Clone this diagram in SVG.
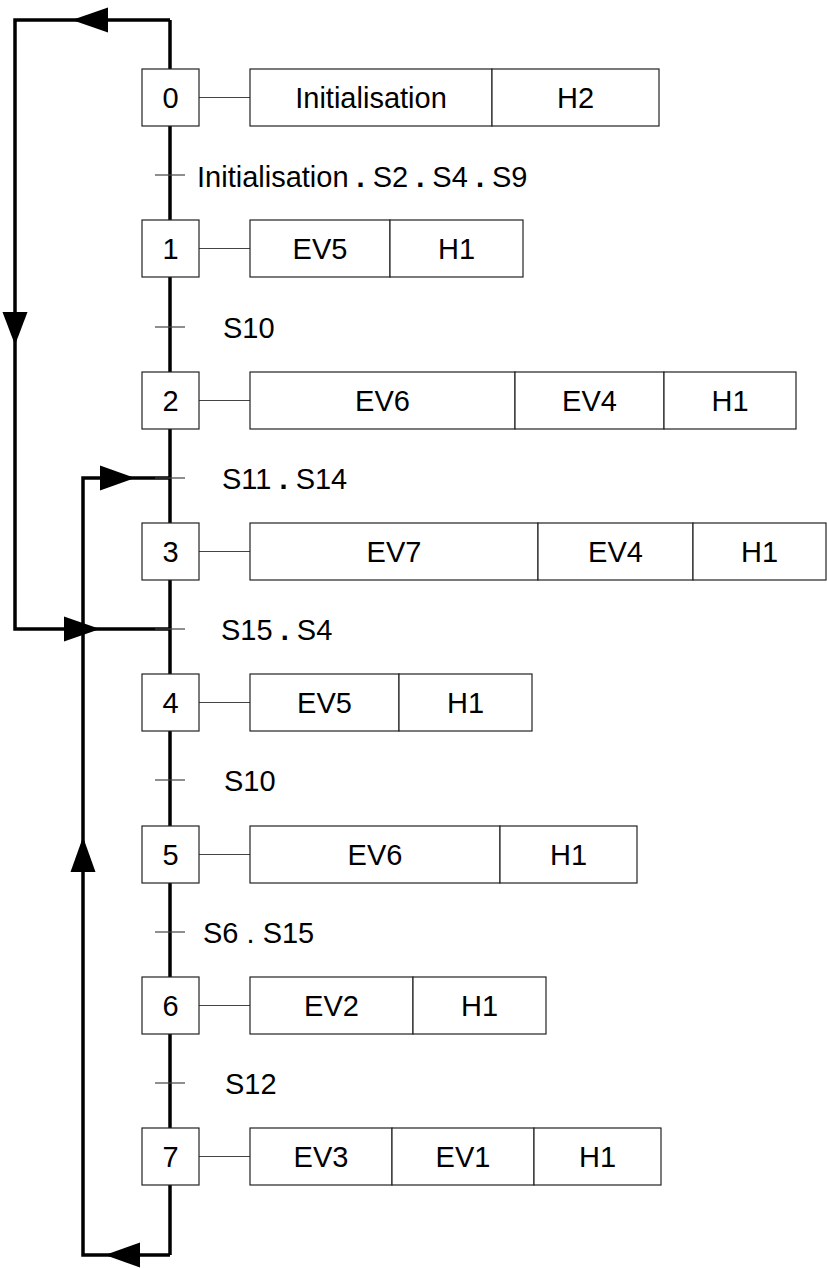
<svg xmlns="http://www.w3.org/2000/svg" width="827" height="1268" viewBox="0 0 827 1268">
<style>
text{font-family:"Liberation Sans",Arial,sans-serif;font-size:29px;fill:#000}
.c{text-anchor:middle}
.b{font-weight:bold}
.box{fill:#fff;stroke:#222;stroke-width:1.2}
.thin{stroke:#444;stroke-width:1.2;fill:none}
.thick{stroke:#000;stroke-width:3.5;fill:none;stroke-linejoin:miter}
.ah{fill:#000}
</style>
<rect width="827" height="1268" fill="#fff"/>
<g id="connectors">
<line class="thick" x1="170" y1="20" x2="170" y2="1255"/>
<path class="thick" d="M170,20 H15 V629 H170"/>
<path class="thick" d="M170,1255 H83 V478 H170"/>
<polygon class="ah" points="72,20 108,7.5 108,32.5"/>
<polygon class="ah" points="15,345 2.5,312 27.5,312"/>
<polygon class="ah" points="100,629 64,616.5 64,641.5"/>
<polygon class="ah" points="135,478 100,465.5 100,490.5"/>
<polygon class="ah" points="83,837 70.5,872 95.5,872"/>
<polygon class="ah" points="105,1255 140,1242.5 140,1267.5"/>
<g class="thin">
<line x1="155" y1="175" x2="185" y2="175"/>
<line x1="155" y1="327" x2="185" y2="327"/>
<line x1="155" y1="478" x2="185" y2="478"/>
<line x1="155" y1="629" x2="185" y2="629"/>
<line x1="155" y1="780" x2="185" y2="780"/>
<line x1="155" y1="932" x2="185" y2="932"/>
<line x1="155" y1="1083" x2="185" y2="1083"/>
<line x1="199" y1="97.5" x2="250" y2="97.5"/>
<line x1="199" y1="248.5" x2="250" y2="248.5"/>
<line x1="199" y1="400.5" x2="250" y2="400.5"/>
<line x1="199" y1="551.5" x2="250" y2="551.5"/>
<line x1="199" y1="702.5" x2="250" y2="702.5"/>
<line x1="199" y1="854.5" x2="250" y2="854.5"/>
<line x1="199" y1="1005.5" x2="250" y2="1005.5"/>
<line x1="199" y1="1156.5" x2="250" y2="1156.5"/>
</g>
<text x="197" y="186.5">Initialisation <tspan class="b">.</tspan> S2 <tspan class="b">.</tspan> S4 <tspan class="b">.</tspan> S9</text>
<text x="223" y="337.5">S10</text>
<text x="222" y="488.5">S11 <tspan class="b">.</tspan> S14</text>
<text x="221" y="639.5">S15 <tspan class="b">.</tspan> S4</text>
<text x="224" y="790.5">S10</text>
<text x="203" y="942.5">S6 . S15</text>
<text x="225" y="1093.5">S12</text>
</g>
<g id="step0">
<rect class="box" x="142" y="69" width="57" height="57"/>
<text class="c" x="170.5" y="108">0</text>
<rect class="box" x="250" y="69" width="242" height="57"/>
<text class="c" x="371" y="108">Initialisation</text>
<rect class="box" x="492" y="69" width="167" height="57"/>
<text class="c" x="575.5" y="108">H2</text>
</g>
<g id="step1">
<rect class="box" x="142" y="220" width="57" height="57"/>
<text class="c" x="170.5" y="259">1</text>
<rect class="box" x="250" y="220" width="140" height="57"/>
<text class="c" x="320" y="259">EV5</text>
<rect class="box" x="390" y="220" width="133" height="57"/>
<text class="c" x="456.5" y="259">H1</text>
</g>
<g id="step2">
<rect class="box" x="142" y="372" width="57" height="57"/>
<text class="c" x="170.5" y="411">2</text>
<rect class="box" x="250" y="372" width="265" height="57"/>
<text class="c" x="382.5" y="411">EV6</text>
<rect class="box" x="515" y="372" width="149" height="57"/>
<text class="c" x="589.5" y="411">EV4</text>
<rect class="box" x="664" y="372" width="132" height="57"/>
<text class="c" x="730" y="411">H1</text>
</g>
<g id="step3">
<rect class="box" x="142" y="523" width="57" height="57"/>
<text class="c" x="170.5" y="562">3</text>
<rect class="box" x="250" y="523" width="288" height="57"/>
<text class="c" x="394" y="562">EV7</text>
<rect class="box" x="538" y="523" width="155" height="57"/>
<text class="c" x="615.5" y="562">EV4</text>
<rect class="box" x="693" y="523" width="133" height="57"/>
<text class="c" x="759.5" y="562">H1</text>
</g>
<g id="step4">
<rect class="box" x="142" y="674" width="57" height="57"/>
<text class="c" x="170.5" y="713">4</text>
<rect class="box" x="250" y="674" width="149" height="57"/>
<text class="c" x="324.5" y="713">EV5</text>
<rect class="box" x="399" y="674" width="133" height="57"/>
<text class="c" x="465.5" y="713">H1</text>
</g>
<g id="step5">
<rect class="box" x="142" y="826" width="57" height="57"/>
<text class="c" x="170.5" y="865">5</text>
<rect class="box" x="250" y="826" width="250" height="57"/>
<text class="c" x="375" y="865">EV6</text>
<rect class="box" x="500" y="826" width="137" height="57"/>
<text class="c" x="568.5" y="865">H1</text>
</g>
<g id="step6">
<rect class="box" x="142" y="977" width="57" height="57"/>
<text class="c" x="170.5" y="1016">6</text>
<rect class="box" x="250" y="977" width="163" height="57"/>
<text class="c" x="331.5" y="1016">EV2</text>
<rect class="box" x="413" y="977" width="133" height="57"/>
<text class="c" x="479.5" y="1016">H1</text>
</g>
<g id="step7">
<rect class="box" x="142" y="1128" width="57" height="57"/>
<text class="c" x="170.5" y="1167">7</text>
<rect class="box" x="250" y="1128" width="142" height="57"/>
<text class="c" x="321" y="1167">EV3</text>
<rect class="box" x="392" y="1128" width="142" height="57"/>
<text class="c" x="463" y="1167">EV1</text>
<rect class="box" x="534" y="1128" width="127" height="57"/>
<text class="c" x="597.5" y="1167">H1</text>
</g>
</svg>
